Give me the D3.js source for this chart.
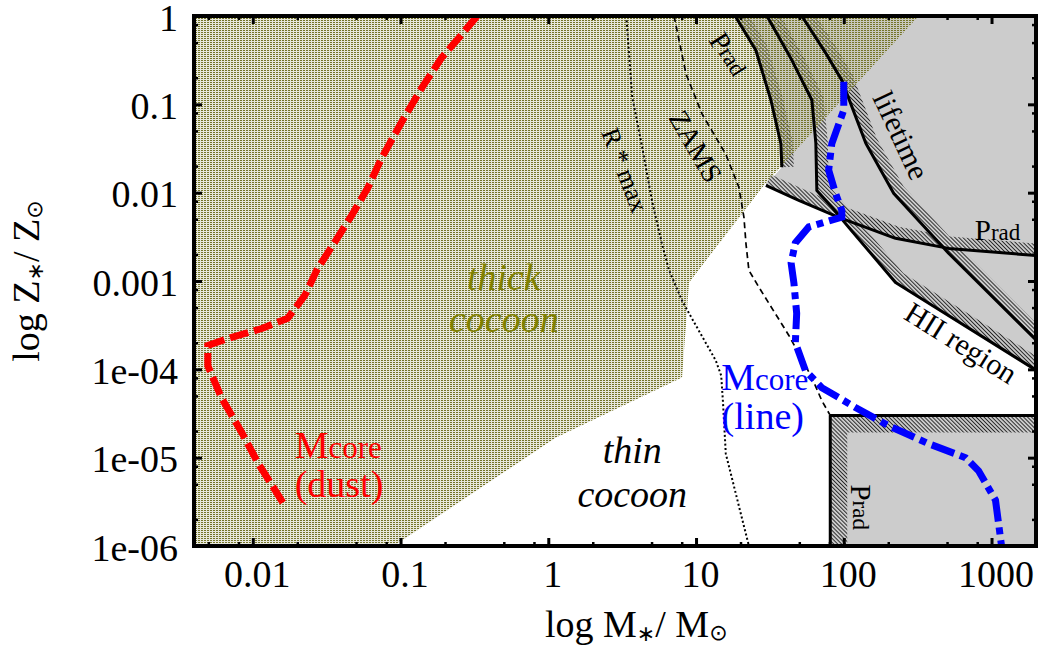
<!DOCTYPE html>
<html>
<head>
<meta charset="utf-8">
<script src="https://cdn.jsdelivr.net/npm/d3@7"></script>
<style>
  body { margin: 0; background: #fff; }
  svg { display: block; }
  text { font-family: "Liberation Serif", "Times New Roman", serif; }
</style>
</head>
<body>
<svg id="chart" width="1044" height="649"></svg>
<script>
// ---- axis ticks ----
const massTicks = [0.01, 0.1, 1, 10, 100, 1000];
const massTickLabels = ["0.01", "0.1", "1", "10", "100", "1000"];
const metalTicks = [1, 0.1, 0.01, 0.001, 1e-4, 1e-5, 1e-6];
const metalTickLabels = ["1", "0.1", "0.01", "0.001", "1e-04", "1e-05", "1e-06"];
const minorMantissas = [2, 5, 8];

// ---- region boundaries, [M*/Msun, Z*/Zsun] ----
const thickCocoon = [[0.004, 1], [321, 1], [28.8, 0.0121], [8.97, 9.64e-4], [8.04, 8.07e-5],
  [1.13, 1.69e-5], [0.09, 1e-6], [0.004, 1e-6]];
const pradUpper = [[18.4, 1], [25.4, 0.41], [32.1, 0.112], [37.5, 0.036], [38.1, 0.0194]];
const pradLower = [[29.7, 0.0121], [49.6, 0.0082], [92.5, 0.00526], [224, 0.00304], [512, 0.00234], [2000, 0.00194]];
const hiiRegion = [[30.2, 1], [44.5, 0.317], [60.8, 0.112], [64.7, 0.0363], [65.7, 0.0106], [83.2, 0.00683],
  [108, 0.00405], [224, 9.64e-4], [2000, 9.8e-5]];
const lifetime = [[52, 1], [75.5, 0.38], [96.9, 0.188], [141, 0.0363], [218, 0.0098], [512, 0.00206], [2000, 2.15e-4]];
const pradBoxCorner = [81, 3e-5];

// ---- stellar tracks ----
const rStarMax = [[3.37, 1], [3.70, 0.121], [4.32, 0.0327], [5.04, 0.00798], [5.89, 0.0026], [6.57, 0.00132],
  [8.04, 6.0e-4], [8.97, 4.3e-4], [13.6, 1.26e-4], [14.8, 8.5e-5], [15.2, 4.4e-5], [15.9, 1.11e-5], [22.8, 1e-6]];
const zams = [[7.10, 1], [8.56, 0.22], [11.0, 0.0774], [15.9, 0.0272], [19.5, 0.0115], [21.1, 0.00526],
  [21.8, 0.0026], [22.8, 0.00132], [26.7, 8.46e-4], [42.5, 2.42e-4], [60.8, 8.07e-5], [71.0, 4.43e-5], [80.4, 3.07e-5]];
const mcoreLine = [[100, 0.18], [100, 0.086], [83, 0.036], [79, 0.018], [88, 0.0098], [97, 0.0063], [97, 0.0053],
  [58, 0.0041], [47, 0.0027], [44, 0.0016], [46, 9.4e-4], [48, 4.3e-4], [47, 2.0e-4], [55, 9.7e-5], [71, 6.2e-5],
  [120, 3.7e-5], [201, 2.3e-5], [375, 1.44e-5], [667, 1.0e-5], [817, 7.1e-6], [1064, 3.3e-6], [1169, 1e-6]];
const mcoreDust = [[0.33, 1.0], [0.258, 0.61], [0.189, 0.334], [0.139, 0.153], [0.1016, 0.0628], [0.0744, 0.0246],
  [0.0598, 0.0112], [0.0467, 0.00554], [0.0358, 0.00274], [0.0275, 0.00139], [0.0225, 6.87e-4], [0.0172, 3.77e-4],
  [0.0115, 2.9e-4], [0.00678, 2.23e-4], [0.00496, 1.86e-4], [0.00496, 1.1e-4], [0.00618, 4.66e-5],
  [0.00843, 1.92e-5], [0.0108, 8.8e-6], [0.016, 3.09e-6]];

const svg = d3.select("#chart");
const x = d3.scaleLog().domain([0.004, 2000]).range([194, 1036]);
const y = d3.scaleLog().domain([1e-6, 1]).range([546, 16]);
const [x0, x1] = x.range();
const [y1, y0] = y.range();

const defs = svg.append("defs");
defs.append("clipPath").attr("id", "plotClip")
  .append("rect").attr("x", x0).attr("y", y0).attr("width", x1 - x0).attr("height", y1 - y0);

const hatch = defs.append("pattern").attr("id", "hatch")
  .attr("width", 2.8).attr("height", 2.8).attr("patternUnits", "userSpaceOnUse")
  .attr("patternTransform", "rotate(-45)");
hatch.append("rect").attr("width", 2.8).attr("height", 2.8).attr("fill", "#cccccc");
hatch.append("line").attr("x1", 0.5).attr("x2", 0.5).attr("y1", 0).attr("y2", 2.8)
  .attr("stroke", "#1a1a1a").attr("stroke-width", 0.9);

const dots = defs.append("pattern").attr("id", "dots")
  .attr("width", 3).attr("height", 2).attr("patternUnits", "userSpaceOnUse");
dots.append("rect").attr("width", 3).attr("height", 2).attr("fill", "#c4c4a8").attr("fill-opacity", 0.4);
dots.append("rect").attr("width", 2).attr("height", 1).attr("fill", "#75752a");

const px = d => [x(d[0]), y(d[1])];
const line = d3.line().x(d => x(d[0])).y(d => y(d[1]));
const poly = pts => "M" + pts.map(p => p.join(",")).join("L") + "Z";

// one-sided band along a polyline (to the right of its direction of travel)
function band(data, w) {
  const pts = data.map(px);
  const segs = [];
  for (let i = 0; i < pts.length - 1; i++) {
    const dx = pts[i + 1][0] - pts[i][0], dy = pts[i + 1][1] - pts[i][1];
    const L = Math.hypot(dx, dy) || 1;
    segs.push([dy / L, -dx / L]);
  }
  const off = pts.map((p, i) => {
    const a = segs[Math.max(0, i - 1)], b = segs[Math.min(segs.length - 1, i)];
    let nx = a[0] + b[0], ny = a[1] + b[1];
    const L = Math.hypot(nx, ny) || 1; nx /= L; ny /= L;
    const c = Math.max(0.5, nx * b[0] + ny * b[1]);
    return [p[0] + nx * w / c, p[1] + ny * w / c];
  });
  return poly(pts.concat(off.reverse()));
}

const plot = svg.append("g").attr("clip-path", "url(#plotClip)");

// excluded (grey) region
const greyRegion = [...pradUpper, ...pradLower.slice(0, 3), ...hiiRegion.slice(6), [2000, 1]];
plot.append("path").attr("d", poly(greyRegion.map(px))).attr("fill", "#cccccc");
plot.append("rect")
  .attr("x", x(pradBoxCorner[0])).attr("y", y(pradBoxCorner[1]))
  .attr("width", x(2000) - x(pradBoxCorner[0])).attr("height", y(1e-6) - y(pradBoxCorner[1]))
  .attr("fill", "#cccccc");

// hatched edges on the excluded side
const boxEdge = [[2000, pradBoxCorner[1]], pradBoxCorner, [pradBoxCorner[0], 1e-6]];
[[pradUpper, 12], [hiiRegion, 12], [lifetime, 12], [pradLower, 12], [boxEdge, 17]].forEach(([d, w]) => {
  plot.append("path").attr("d", band(d, w)).attr("fill", "url(#hatch)");
});

// thick cocoon
plot.append("path").attr("d", poly(thickCocoon.map(px))).attr("fill", "url(#dots)");

// boundaries
[pradUpper, hiiRegion, lifetime, pradLower, boxEdge].forEach(d => {
  plot.append("path").attr("d", line(d)).attr("fill", "none")
    .attr("stroke", "#000").attr("stroke-width", 3).attr("stroke-linejoin", "round");
});

plot.append("path").attr("d", line(rStarMax)).attr("fill", "none")
  .attr("stroke", "#000").attr("stroke-width", 2).attr("stroke-dasharray", "2,2.4");
plot.append("path").attr("d", line(zams)).attr("fill", "none")
  .attr("stroke", "#000").attr("stroke-width", 1.7).attr("stroke-dasharray", "6,4");

plot.append("path").attr("d", line(mcoreDust)).attr("fill", "none")
  .attr("stroke", "#ff0000").attr("stroke-width", 7).attr("stroke-dasharray", "19,6");
plot.append("path").attr("d", line(mcoreLine)).attr("fill", "none")
  .attr("stroke", "#0000ff").attr("stroke-width", 7).attr("stroke-dasharray", "24,6,7,6");

// ---- labels ----
function label(M, Z, parts, o = {}) {
  const t = svg.append("text")
    .attr("transform", `translate(${x(M)},${y(Z)})` + (o.rotate ? ` rotate(${o.rotate})` : ""))
    .attr("text-anchor", o.anchor || "start")
    .attr("fill", o.color || "#000")
    .attr("font-style", o.italic ? "italic" : "normal");
  if (o.central) t.attr("dominant-baseline", "central");
  parts.forEach(([s, size, dy]) => {
    t.append("tspan").attr("font-size", size).attr("dy", dy || 0).text(s);
  });
  return t;
}

label(0.50, 7.9e-4, [["thick", 38]], { anchor: "middle", italic: true, color: "#808000" });
label(0.50, 2.64e-4, [["cocoon", 38]], { anchor: "middle", italic: true, color: "#808000" });
label(3.7, 8.7e-6, [["thin", 38]], { anchor: "middle", italic: true });
label(3.7, 2.75e-6, [["cocoon", 38]], { anchor: "middle", italic: true });

label(14.8, 5.8e-5, [["M", 38], ["core", 31]], { color: "#0000ff" });
label(14.9, 2.1e-5, [["(line)", 38]], { color: "#0000ff" });
label(0.0192, 9.9e-6, [["M", 38], ["core", 31]], { color: "#ff0000" });
label(0.0192, 3.57e-6, [["(dust)", 38]], { color: "#ff0000" });

label(10, 0.0337, [["ZAMS", 28]], { anchor: "middle", rotate: 60, central: true });
label(3.31, 0.018, [["R * max", 26]], { anchor: "middle", rotate: 69, central: true });
label(16.6, 0.37, [["P", 29], ["rad", 23]], { anchor: "middle", rotate: 58, central: true });
label(247, 0.0449, [["lifetime", 30]], { anchor: "middle", rotate: 65, central: true });
label(770, 0.0029, [["P", 29], ["rad", 23]], {});
label(627, 2.03e-4, [["HII region", 30]], { anchor: "middle", rotate: 32, central: true });
label(130, 2.75e-6, [["P", 29], ["rad", 23]], { anchor: "middle", rotate: 90, central: true });

// ---- frame and axes ----
const decades = (lo, hi) => d3.range(lo, hi + 1);
const massMinor = decades(-3, 3).flatMap(e => minorMantissas.map(m => m * Math.pow(10, e)))
  .filter(v => v >= 0.004 && v <= 2000);
const metalMinor = decades(-6, -1).flatMap(e => minorMantissas.map(m => m * Math.pow(10, e)))
  .filter(v => v >= 1e-6 && v <= 1);

function axisGroup(axis, tx, ty) {
  const g = svg.append("g").attr("transform", `translate(${tx},${ty})`).call(axis);
  g.select(".domain").remove();
  return g;
}

const styleTicks = (g, w) => g.selectAll(".tick line").attr("stroke", "#000").attr("stroke-width", w);

// bottom
const bottom = axisGroup(d3.axisBottom(x).tickValues(massTicks).tickFormat((d, i) => massTickLabels[i])
  .tickSizeInner(-8).tickSizeOuter(0), 0, y1);
styleTicks(bottom, 3);
bottom.selectAll(".tick text").attr("y", 41).attr("dy", 0).attr("dx", 4)
  .attr("font-size", 38).attr("font-family", "Liberation Serif, serif").attr("fill", "#000");
styleTicks(axisGroup(d3.axisBottom(x).tickValues(massMinor).tickFormat("").tickSizeInner(-4).tickSizeOuter(0), 0, y1), 2.5);
// top
styleTicks(axisGroup(d3.axisTop(x).tickValues(massTicks).tickFormat("").tickSizeInner(-8).tickSizeOuter(0), 0, y0), 3);
styleTicks(axisGroup(d3.axisTop(x).tickValues(massMinor).tickFormat("").tickSizeInner(-4).tickSizeOuter(0), 0, y0), 2.5);
// left
const left = axisGroup(d3.axisLeft(y).tickValues(metalTicks).tickFormat((d, i) => metalTickLabels[i])
  .tickSizeInner(-8).tickSizeOuter(0), x0, 0);
styleTicks(left, 3);
left.selectAll(".tick text").attr("x", -16).attr("dy", 14)
  .attr("font-size", 38).attr("font-family", "Liberation Serif, serif").attr("fill", "#000");
styleTicks(axisGroup(d3.axisLeft(y).tickValues(metalMinor).tickFormat("").tickSizeInner(-4).tickSizeOuter(0), x0, 0), 2.5);
// right
styleTicks(axisGroup(d3.axisRight(y).tickValues(metalTicks).tickFormat("").tickSizeInner(-8).tickSizeOuter(0), x1, 0), 3);
styleTicks(axisGroup(d3.axisRight(y).tickValues(metalMinor).tickFormat("").tickSizeInner(-4).tickSizeOuter(0), x1, 0), 2.5);

svg.append("rect").attr("x", x0).attr("y", y0).attr("width", x1 - x0).attr("height", y1 - y0)
  .attr("fill", "none").attr("stroke", "#000").attr("stroke-width", 4);

// axis titles
const xt = svg.append("text").attr("x", 545).attr("y", 637).attr("font-size", 38).attr("fill", "#000");
xt.append("tspan").text("log M");
xt.append("tspan").attr("font-size", 22).attr("dy", 4).attr("font-family", "DejaVu Sans").text("∗");
xt.append("tspan").attr("dy", -4).text("/ M");
xt.append("tspan").attr("font-size", 22).attr("dy", 3).attr("font-family", "DejaVu Sans").text("⊙");

const yt = svg.append("text").attr("transform", "translate(39,281) rotate(-90)")
  .attr("text-anchor", "middle").attr("font-size", 38).attr("fill", "#000");
yt.append("tspan").text("log Z");
yt.append("tspan").attr("font-size", 22).attr("dy", 4).attr("font-family", "DejaVu Sans").text("∗");
yt.append("tspan").attr("dy", -4).text("/ Z");
yt.append("tspan").attr("font-size", 22).attr("dy", 3).attr("font-family", "DejaVu Sans").text("⊙");
</script>
</body>
</html>
